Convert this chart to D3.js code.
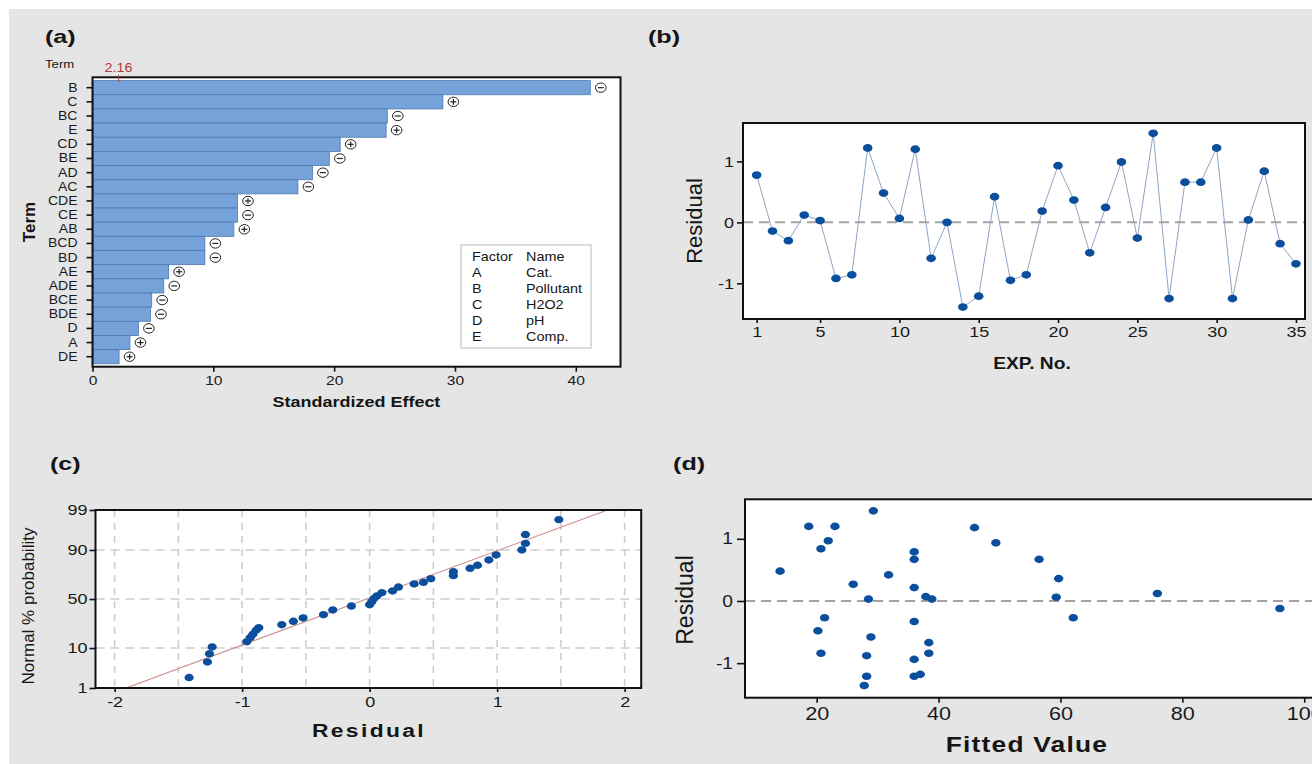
<!DOCTYPE html>
<html><head><meta charset="utf-8">
<script src="https://cdn.jsdelivr.net/npm/d3@7"></script>
<style>
body{margin:0;background:#fff;}
svg text{font-family:"Liberation Sans",Arial,sans-serif;fill:#151515;}
</style></head><body>
<script>
// ---------- data ----------
const terms   = ["B","C","BC","E","CD","BE","AD","AC","CDE","CE","AB","BCD","BD","AE","ADE","BCE","BDE","D","A","DE"];
const effects = [41.2,29.0,24.4,24.3,20.5,19.6,18.2,17.0,12.0,12.0,11.7,9.3,9.3,6.3,5.9,4.9,4.8,3.8,3.1,2.2];
const signs   = ["-","+","-","+","+","-","-","-","+","-","+","-","-","+","-","-","-","-","+","+"];
const effectTicks = [0,10,20,30,40];
const critValue = 2.16;
const factorCodes = ["A","B","C","D","E"];
const factorNames = ["Cat.","Pollutant","H2O2","pH","Comp."];

const expNo  = [1,2,3,4,5,6,7,8,9,10,11,12,13,14,15,16,17,18,19,20,21,22,23,24,25,26,27,28,29,30,31,32,33,34,35];
const residB = [0.775,-0.143,-0.30,0.12,0.03,-0.92,-0.86,1.22,0.48,0.065,1.20,-0.59,0.0,-1.39,-1.21,
                0.42,-0.95,-0.86,0.185,0.93,0.366,-0.50,0.245,0.99,-0.257,1.46,-1.25,0.66,0.66,1.22,-1.25,0.04,0.84,-0.35,-0.68];
const expTicks = [1,5,10,15,20,25,30,35];
const residTicks = [-1,0,1];

const residC = [-1.416,-1.272,-1.256,-1.235,-0.963,-0.937,-0.916,-0.890,-0.869,-0.689,-0.598,-0.522,-0.362,-0.289,-0.143,
                0.0,0.017,0.035,0.056,0.096,0.18,0.226,0.349,0.422,0.48,0.657,0.657,0.788,0.846,0.935,0.992,1.194,1.222,1.222,1.484];
const probC  = [2.0,5.0,7.6,10.5,13.2,15.6,17.8,20.7,22.7,25.1,28.0,31.0,34.1,38.7,42.7,
                44.1,47.2,50.7,53.1,56.5,58.3,62.3,65.3,66.9,70.2,72.9,76.2,78.9,81.1,84.6,87.5,90.0,92.7,95.4,98.1];
const lineResid = [-1.91,1.865];
const lineProb  = [1,99];
const residCTicks = [-2,-1,0,1,2];
const residCGrid  = [-2,-1.5,-1,-0.5,0,0.5,1,1.5,2];
const probTicks = [1,10,50,90,99];
const probGrid  = [10,50,90];

const fittedD = [14.0,18.7,23.0,21.9,20.7,29.3,26.0,28.5,31.8,36.0,36.0,36.0,37.9,38.9,21.3,20.2,20.7,28.9,28.2,28.2,27.8,36.0,38.4,38.4,36.0,36.0,37.0,45.9,49.4,56.5,59.7,59.3,62.1,75.9,96.0];
const residD  = [0.48,1.20,1.20,0.97,0.84,1.45,0.27,0.03,0.42,0.79,0.67,0.215,0.07,0.03,-0.27,-0.48,-0.84,-0.58,-0.88,-1.21,-1.36,-0.33,-0.67,-0.84,-0.94,-1.21,-1.18,1.18,0.935,0.67,0.36,0.06,-0.27,0.12,-0.12];
const fittedTicks = [20,40,60,80,100];

// ---------- helpers ----------
function probit(p){
  const a=[-3.969683028665376e+01,2.209460984245205e+02,-2.759285104469687e+02,1.383577518672690e+02,-3.066479806614716e+01,2.506628277459239e+00];
  const b=[-5.447609879822406e+01,1.615858368580409e+02,-1.556989798598866e+02,6.680131188771972e+01,-1.328068155288572e+01];
  const c=[-7.784894002430293e-03,-3.223964580411365e-01,-2.400758277161838e+00,-2.549732539343734e+00,4.374664141464968e+00,2.938163982698783e+00];
  const d=[7.784695709041462e-03,3.224671290700398e-01,2.445134137142996e+00,3.754408661907416e+00];
  const pl=0.02425, ph=1-pl; let q,r;
  if(p<pl){q=Math.sqrt(-2*Math.log(p));return (((((c[0]*q+c[1])*q+c[2])*q+c[3])*q+c[4])*q+c[5])/((((d[0]*q+d[1])*q+d[2])*q+d[3])*q+1);}
  if(p<=ph){q=p-0.5;r=q*q;return (((((a[0]*r+a[1])*r+a[2])*r+a[3])*r+a[4])*r+a[5])*q/(((((b[0]*r+b[1])*r+b[2])*r+b[3])*r+b[4])*r+1);}
  q=Math.sqrt(-2*Math.log(1-p));return -(((((c[0]*q+c[1])*q+c[2])*q+c[3])*q+c[4])*q+c[5])/((((d[0]*q+d[1])*q+d[2])*q+d[3])*q+1);
}
function stretch(sel,s){
  sel.each(function(){
    const an=getComputedStyle(this).textAnchor;
    this.style.transformBox="fill-box";
    this.style.transformOrigin= an==="end"?"100% 50%":(an==="middle"?"50% 50%":"0% 50%");
    this.style.transform=`scaleX(${s})`;
  });
}
const plain=d=>String(d);
const FONT='"Liberation Sans",Arial,sans-serif';
const W=1312,H=764;
const svg=d3.select("body").append("svg").attr("width",W).attr("height",H);
svg.append("rect").attr("x",9).attr("y",9).attr("width",W).attr("height",H).attr("fill","#e5e5e5");

function txt(x,y,s,opt={}){
  const t=svg.append("text").attr("x",x).attr("y",y).text(s)
    .attr("font-size",opt.size||14).attr("font-weight",opt.bold?"bold":"normal")
    .attr("text-anchor",opt.anchor||"start");
  if(opt.fill) t.style("fill",opt.fill);
  if(opt.ls) t.attr("letter-spacing",opt.ls);
  if(opt.rot){ t.attr("x",0).attr("y",0).attr("transform",`translate(${x},${y}) rotate(-90)`); }
  else stretch(t,opt.sx||1.2);
  return t;
}
function styleAxis(g,size,sx){
  g.select(".domain").remove();
  g.selectAll(".tick line").attr("stroke","#111").attr("stroke-width",1.6);
  g.attr("font-family",FONT).attr("font-size",size);
  g.selectAll(".tick text").style("fill","#1a1a1a");
  stretch(g.selectAll(".tick text"),sx||1.2);
}
const DOT="#0b4f9c";

// ---------- panel (a) ----------
txt(45,43,"(a)",{size:18,bold:true,sx:1.4});
const xA=d3.scaleLinear([0,43.7],[92.5,620.5]);
const yA=d3.scaleBand(terms,[80.6,363.8]).padding(0);
svg.append("rect").attr("x",92.5).attr("y",77.3).attr("width",528).attr("height",289.4).attr("fill","#fff");
svg.append("g").selectAll("rect").data(terms).join("rect")
  .attr("x",xA(0)+1).attr("y",d=>yA(d))
  .attr("width",(d,i)=>xA(effects[i])-xA(0)-1).attr("height",yA.bandwidth())
  .attr("fill","#74a2d9").attr("stroke","#4f79b0").attr("stroke-width",0.8);
const sg=svg.append("g").selectAll("g").data(terms).join("g")
  .attr("transform",(d,i)=>`translate(${xA(effects[i])+10.5},${yA(d)+yA.bandwidth()/2})`);
sg.append("ellipse").attr("rx",5.3).attr("ry",4.7).attr("fill","#fff").attr("stroke","#222").attr("stroke-width",1);
sg.append("line").attr("x1",-3).attr("x2",3).attr("stroke","#222").attr("stroke-width",1.2);
sg.filter((d,i)=>signs[i]==="+").append("line").attr("y1",-2.8).attr("y2",2.8).attr("stroke","#222").attr("stroke-width",1.2);
svg.append("rect").attr("x",92.5).attr("y",77.3).attr("width",528).attr("height",289.4)
  .attr("fill","none").attr("stroke","#111").attr("stroke-width",2);
svg.append("line").attr("x1",xA(critValue)).attr("x2",xA(critValue)).attr("y1",75).attr("y2",82)
  .attr("stroke","#b23a3a").attr("stroke-width",1);
txt(xA(critValue),72.5,"2.16",{size:12,anchor:"middle",fill:"#b23a3a"});
txt(45,68,"Term",{size:11});
const gyA=svg.append("g").attr("transform","translate(92.5,0)").call(d3.axisLeft(yA).tickSize(6).tickPadding(9));
styleAxis(gyA,12.5,1.12);
const gxA=svg.append("g").attr("transform","translate(0,366.7)").call(d3.axisBottom(xA).tickValues(effectTicks).tickFormat(plain).tickSize(5).tickPadding(4));
styleAxis(gxA,13);
txt(356.5,407,"Standardized Effect",{size:15,bold:true,anchor:"middle"});
txt(35,222,"Term",{size:17,bold:true,anchor:"middle",rot:true});
// legend
svg.append("rect").attr("x",461).attr("y",245).attr("width",130).attr("height",103)
  .attr("fill","#fff").attr("stroke","#c6c6c6").attr("stroke-width",1.2);
txt(472,261.5,"Factor",{size:12});
txt(526,261.5,"Name",{size:12});
factorCodes.forEach((c,i)=>{
  txt(472,277.5+i*16,c,{size:12});
  txt(526,277.5+i*16,factorNames[i],{size:12});
});

// ---------- panel (b) ----------
txt(648,43,"(b)",{size:18,bold:true,sx:1.4});
const xB=d3.scaleLinear([0.14,35.57],[743,1305]);
const yB=d3.scaleLinear([-1.585,1.63],[319,123]);
svg.append("rect").attr("x",743).attr("y",123).attr("width",562).attr("height",196).attr("fill","#fff");
svg.append("line").attr("x1",743).attr("x2",1305).attr("y1",yB(0)).attr("y2",yB(0))
  .attr("stroke","#a3a3a3").attr("stroke-width",2).attr("stroke-dasharray","10,6");
svg.append("path").datum(expNo).attr("fill","none").attr("stroke","#8ea5c4").attr("stroke-width",1)
  .attr("d",d3.line().x(d=>xB(d)).y((d,i)=>yB(residB[i])));
svg.append("g").selectAll("ellipse").data(expNo).join("ellipse")
  .attr("cx",d=>xB(d)).attr("cy",(d,i)=>yB(residB[i])).attr("rx",4.8).attr("ry",3.9).attr("fill",DOT);
svg.append("rect").attr("x",743).attr("y",123).attr("width",562).attr("height",196)
  .attr("fill","none").attr("stroke","#111").attr("stroke-width",2);
const gyB=svg.append("g").attr("transform","translate(743,0)").call(d3.axisLeft(yB).tickValues(residTicks).tickFormat(plain).tickSize(6).tickPadding(3));
styleAxis(gyB,15);
const gxB=svg.append("g").attr("transform","translate(0,319)").call(d3.axisBottom(xB).tickValues(expTicks).tickFormat(plain).tickSize(4).tickPadding(3.5));
styleAxis(gxB,15);
txt(702,221,"Residual",{size:22,anchor:"middle",rot:true});
txt(1032,369,"EXP. No.",{size:16,bold:true,anchor:"middle"});

// ---------- panel (c) ----------
txt(50,470,"(c)",{size:18,bold:true,sx:1.4});
const xC=d3.scaleLinear([-2.15,2.13],[95.5,641.2]);
const zC=d3.scaleLinear([probit(0.01),probit(0.99)],[688,510]);
const yC=p=>zC(probit(p/100));
svg.append("rect").attr("x",95.5).attr("y",510).attr("width",545.7).attr("height",178).attr("fill","#fff");
svg.append("g").selectAll("line").data(residCGrid).join("line")
  .attr("x1",d=>xC(d)).attr("x2",d=>xC(d)).attr("y1",510).attr("y2",688)
  .attr("stroke","#cdcdcd").attr("stroke-width",1.6).attr("stroke-dasharray","7,6");
svg.append("g").selectAll("line").data(probGrid).join("line")
  .attr("x1",95.5).attr("x2",641.2).attr("y1",d=>yC(d)).attr("y2",d=>yC(d))
  .attr("stroke","#cdcdcd").attr("stroke-width",1.6).attr("stroke-dasharray","9,6");
svg.append("path").datum(lineResid).attr("fill","none").attr("stroke","#c98a86").attr("stroke-width",1.1)
  .attr("d",d3.line().x(d=>xC(d)).y((d,i)=>yC(lineProb[i])));
svg.append("g").selectAll("ellipse").data(residC).join("ellipse")
  .attr("cx",d=>xC(d)).attr("cy",(d,i)=>yC(probC[i])).attr("rx",4.6).attr("ry",3.7).attr("fill",DOT);
svg.append("rect").attr("x",95.5).attr("y",510).attr("width",545.7).attr("height",178)
  .attr("fill","none").attr("stroke","#111").attr("stroke-width",2);
const gyC=svg.append("g").attr("transform","translate(95.5,0)")
  .call(d3.axisLeft(zC).tickValues(probTicks.map(p=>probit(p/100))).tickFormat((d,i)=>String(probTicks[i])).tickSize(6).tickPadding(2));
styleAxis(gyC,15);
const gxC=svg.append("g").attr("transform","translate(0,688)").call(d3.axisBottom(xC).tickValues(residCTicks).tickFormat(plain).tickSize(4).tickPadding(4.5));
styleAxis(gxC,15);
txt(369,737,"Residual",{size:19,bold:true,anchor:"middle",ls:2});
txt(34,606,"Normal % probability",{size:17,anchor:"middle",rot:true});

// ---------- panel (d) ----------
txt(673,470,"(d)",{size:18,bold:true,sx:1.4});
const xD=d3.scaleLinear([8.24,101.6],[745,1314]);
const yD=d3.scaleLinear([-1.556,1.636],[697.7,499.3]);
svg.append("rect").attr("x",745).attr("y",499.3).attr("width",569).attr("height",198.4).attr("fill","#fff");
svg.append("line").attr("x1",745).attr("x2",1314).attr("y1",yD(0)).attr("y2",yD(0))
  .attr("stroke","#a3a3a3").attr("stroke-width",2).attr("stroke-dasharray","10,6");
svg.append("g").selectAll("ellipse").data(fittedD).join("ellipse")
  .attr("cx",d=>xD(d)).attr("cy",(d,i)=>yD(residD[i])).attr("rx",4.7).attr("ry",3.8).attr("fill",DOT);
svg.append("rect").attr("x",745).attr("y",499.3).attr("width",572).attr("height",198.4)
  .attr("fill","none").attr("stroke","#111").attr("stroke-width",2);
const gyD=svg.append("g").attr("transform","translate(745,0)").call(d3.axisLeft(yD).tickValues(residTicks).tickFormat(plain).tickSize(8).tickPadding(4));
styleAxis(gyD,16);
const gxD=svg.append("g").attr("transform","translate(0,697.7)").call(d3.axisBottom(xD).tickValues(fittedTicks).tickFormat(plain).tickSize(5).tickPadding(4.3));
styleAxis(gxD,18);
txt(693,600,"Residual",{size:23,anchor:"middle",rot:true});
txt(1027,752,"Fitted Value",{size:22,bold:true,anchor:"middle",ls:1});
</script>
</body></html>
